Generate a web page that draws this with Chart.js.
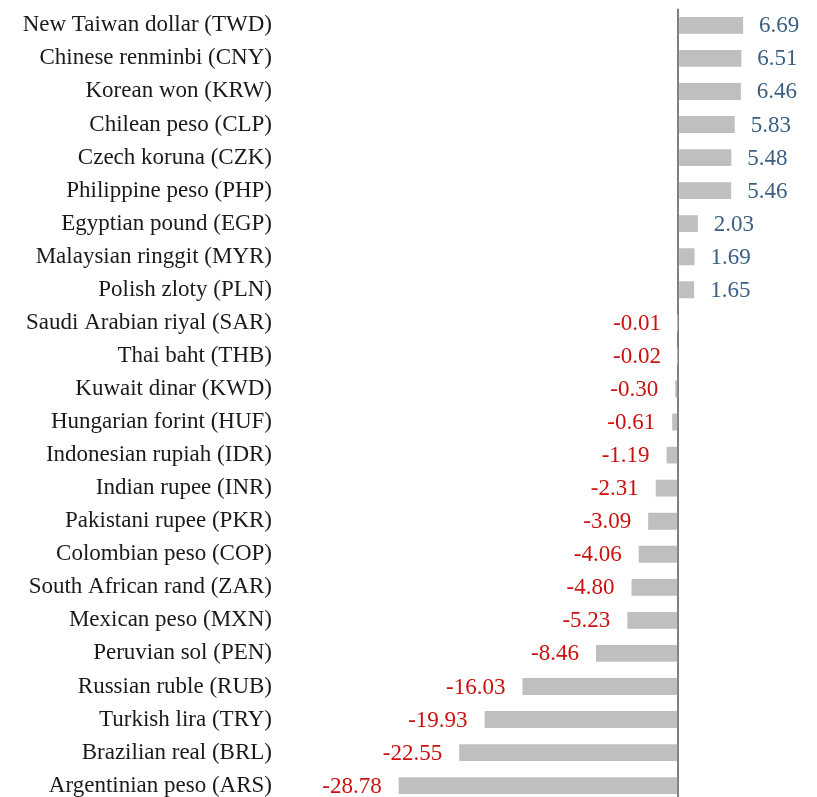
<!DOCTYPE html>
<html>
<head>
<meta charset="utf-8">
<script src="https://cdn.jsdelivr.net/npm/chart.js@4.4.1/dist/chart.umd.min.js"></script>
<style>
  html, body { margin: 0; padding: 0; background: #fff; overflow: hidden; }
  #wrap { width: 817px; height: 837px; position: relative; top: -13px; }
</style>
</head>
<body>
<div id="wrap"><canvas id="chart"></canvas></div>
<script>
// ── Data ───────────────────────────────────────────────
const currencies = [
    'New Taiwan dollar (TWD)', 'Chinese renminbi (CNY)', 'Korean won (KRW)',
    'Chilean peso (CLP)', 'Czech koruna (CZK)', 'Philippine peso (PHP)',
    'Egyptian pound (EGP)', 'Malaysian ringgit (MYR)', 'Polish zloty (PLN)',
    'Saudi Arabian riyal (SAR)', 'Thai baht (THB)', 'Kuwait dinar (KWD)',
    'Hungarian forint (HUF)', 'Indonesian rupiah (IDR)', 'Indian rupee (INR)',
    'Pakistani rupee (PKR)', 'Colombian peso (COP)', 'South African rand (ZAR)',
    'Mexican peso (MXN)', 'Peruvian sol (PEN)', 'Russian ruble (RUB)',
    'Turkish lira (TRY)', 'Brazilian real (BRL)', 'Argentinian peso (ARS)'
];
const changes = [
    6.69, 6.51, 6.46, 5.83, 5.48, 5.46, 2.03, 1.69, 1.65,
    -0.01, -0.02, -0.30, -0.61, -1.19, -2.31, -3.09, -4.06, -4.80,
    -5.23, -8.46, -16.03, -19.93, -22.55, -28.78
];

const FONT = 'Liberation Serif';
const POS_COLOR = '#3A5F82';
const NEG_COLOR = '#CC1010';

// ── Value labels next to bars ──────────────────────────
const valueLabels = {
    id: 'valueLabels',
    afterDatasetsDraw(chart) {
        const ctx = chart.ctx;
        const meta = chart.getDatasetMeta(0);
        ctx.save();
        ctx.font = '23px "' + FONT + '"';
        ctx.textBaseline = 'middle';
        meta.data.forEach((bar, i) => {
            const v = changes[i];
            if (v >= 0) {
                ctx.fillStyle = POS_COLOR;
                ctx.textAlign = 'left';
                ctx.fillText(v.toFixed(2), bar.x + 16, bar.y + 1);
            } else {
                ctx.fillStyle = NEG_COLOR;
                ctx.textAlign = 'right';
                ctx.fillText(v.toFixed(2), bar.x - 17, bar.y + 1);
            }
        });
        ctx.restore();
    }
};

new Chart(document.getElementById('chart'), {
    type: 'bar',
    data: {
        labels: currencies,
        datasets: [{
            data: changes,
            backgroundColor: '#BFBFBF',
            borderWidth: 0,
            categoryPercentage: 1,
            barPercentage: 0.51
        }]
    },
    options: {
        indexAxis: 'y',
        responsive: true, maintainAspectRatio: false,
        animation: false,
        layout: { padding: { top: 7, right: 0, left: 0, bottom: 0 } },
        plugins: { legend: { display: false }, tooltip: { enabled: false } },
        scales: {
            x: {
                min: -41, max: 14.3,
                ticks: { display: false, stepSize: 1 },
                border: { display: false },
                grid: {
                    drawTicks: false,
                    lineWidth: 2,
                    color: c => c.tick && c.tick.value === 0 ? '#808080' : 'rgba(0,0,0,0)'
                },
                afterFit: s => { s.height = 0; }
            },
            y: {
                ticks: {
                    padding: 8,
                    color: '#1a1a1a',
                    font: { family: FONT, size: 23 }
                },
                grid: { display: false, drawTicks: false },
                border: { display: false },
                afterFit: s => { s.width = 280; }
            }
        }
    },
    plugins: [valueLabels]
});
</script>
</body>
</html>
